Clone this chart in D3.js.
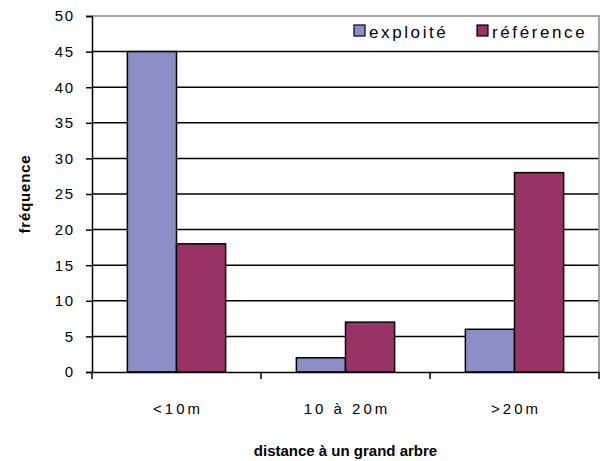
<!DOCTYPE html>
<html><head><meta charset="utf-8">
<script src="https://cdn.jsdelivr.net/npm/d3@7"></script>
<style>body{margin:0;background:#fff}svg{display:block}</style>
</head><body>
<svg id="c" width="602" height="461"></svg>
<script>
const categories = ["<10m", "10 à 20m", ">20m"];
const seriesNames = ["exploité", "référence"];
const exploite = [45, 2, 6];
const reference = [18, 7, 28];
const yTicks = [0, 5, 10, 15, 20, 25, 30, 35, 40, 45, 50];
const colors = ["#8C8FC6", "#993366"];

const FONT = "Liberation Sans, Arial, sans-serif";
const svg = d3.select("#c");
const m = {l: 92, r: 3, t: 16, b: 89};
const W = 602, H = 461;
const iw = W - m.l - m.r, ih = H - m.t - m.b;
const g = svg.append("g").attr("transform", `translate(${m.l},${m.t})`);

const x = d3.scaleBand().domain(categories).range([0, iw]).paddingInner(0).paddingOuter(0);
const xs = d3.scaleBand().domain(seriesNames).range([0, x.bandwidth()]).paddingInner(0).paddingOuter(0.72);
const y = d3.scaleLinear().domain([0, 50]).range([ih, 0]);

// gridlines
g.append("g").selectAll("line").data(yTicks.filter(v => v > 0 && v < 50)).join("line")
  .attr("x1", 0).attr("x2", iw).attr("y1", d => y(d)).attr("y2", d => y(d))
  .attr("stroke", "#000").attr("stroke-width", 1.5);
// plot border (top/right gray)
g.append("path").attr("d", `M0,${y(50)}H${iw}V${ih}`).attr("fill", "none").attr("stroke", "#888").attr("stroke-width", 1.5);

const data = categories.map((c, i) => ({c, vals: [exploite[i], reference[i]]}));
const grp = g.append("g").selectAll("g").data(data).join("g")
  .attr("transform", d => `translate(${x(d.c)},0)`);
grp.selectAll("rect").data(d => d.vals.map((v, j) => ({s: seriesNames[j], v, j}))).join("rect")
  .attr("x", d => xs(d.s)).attr("width", xs.bandwidth())
  .attr("y", d => y(d.v)).attr("height", d => y(0) - y(d.v))
  .attr("fill", d => colors[d.j]).attr("stroke", "#000").attr("stroke-width", 1.5);

// y axis
const yls = 1.8;
const ya = g.append("g").call(d3.axisLeft(y).tickValues(yTicks).tickSize(6).tickPadding(11));
ya.select(".domain").attr("stroke", "#000").attr("stroke-width", 1.5);
ya.selectAll(".tick line").attr("stroke", "#000").attr("stroke-width", 1.5);
ya.selectAll(".tick text").attr("font-family", FONT).attr("font-size", 15).attr("fill", "#000")
  .attr("letter-spacing", yls + "px");

// x axis
const xls = 3;
const xa = g.append("g").attr("transform", `translate(0,${ih})`)
  .call(d3.axisBottom(x).tickSize(0).tickPadding(31));
xa.select(".domain").attr("stroke", "#000").attr("stroke-width", 1.5);
xa.selectAll(".tick text").attr("font-family", FONT).attr("font-size", 15)
  .attr("fill", "#000").attr("letter-spacing", xls + "px").attr("dx", xls / 2);
const bounds = [0, ...categories.map(c => x(c) + x.bandwidth())];
xa.append("g").selectAll("line").data(bounds).join("line")
  .attr("x1", d => d).attr("x2", d => d).attr("y1", 0).attr("y2", 7)
  .attr("stroke", "#000").attr("stroke-width", 1.5);

// axis titles
svg.append("text").attr("x", m.l + iw / 2).attr("y", 456).attr("text-anchor", "middle")
  .attr("font-family", FONT).attr("font-weight", "bold").attr("font-size", 15)
  .text("distance à un grand arbre");
svg.append("text").attr("transform", `translate(30,${m.t + ih / 2}) rotate(-90)`).attr("text-anchor", "middle")
  .attr("font-family", FONT).attr("font-weight", "bold").attr("font-size", 15).attr("letter-spacing", "0.8px")
  .text("fréquence");

// legend
const lg = svg.append("g");
lg.append("rect").attr("x", 346).attr("y", 18).attr("width", 252).attr("height", 28).attr("fill", "#fff");
const lx = [354, 477];
seriesNames.forEach((s, i) => {
  lg.append("rect").attr("x", lx[i]).attr("y", 25).attr("width", 11).attr("height", 11)
    .attr("fill", colors[i]).attr("stroke", "#000").attr("stroke-width", 1.2);
  lg.append("text").attr("x", lx[i] + 15).attr("y", 37.5)
    .attr("font-family", FONT).attr("font-size", 17).attr("letter-spacing", "2.6px")
    .text(s);
});
</script>
</body></html>
